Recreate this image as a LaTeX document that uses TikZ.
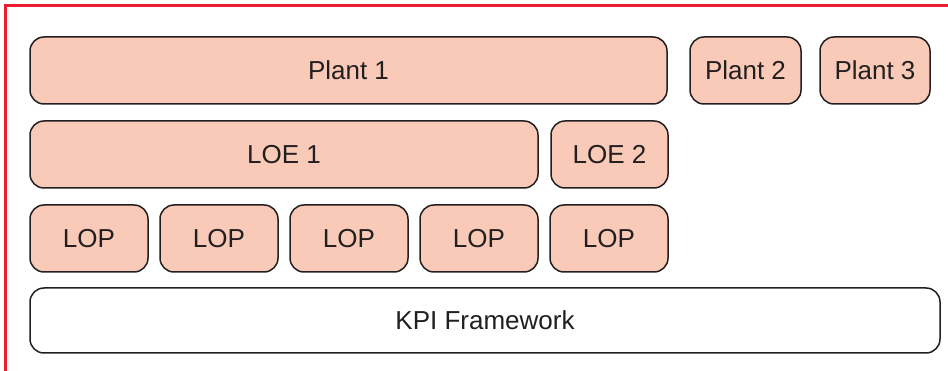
\documentclass[tikz,border=0pt]{standalone}
\usepackage{fontspec}
\setmainfont{Liberation Sans}
\usepackage{tikz}
\usetikzlibrary{positioning}
\definecolor{boxpeach}{RGB}{249, 202, 184}
\definecolor{boxline}{RGB}{35, 31, 32}
\definecolor{frame red}{RGB}{237, 28, 48}
\tikzset{
  layer/.style={rectangle, rounded corners=14pt, draw=boxline, line width=1.5pt, fill=boxpeach, minimum height=67pt, text=boxline, font=\fontsize{26}{30}\selectfont, inner sep=0pt},
  basebox/.style={layer, fill=white, minimum height=65pt}
}
\begin{document}
\begin{tikzpicture}[x=1pt, y=-1pt]
    \useasboundingbox (0,0) rectangle (948,371);
    % red frame (only top and left edges visible)
    \draw[frame red, line width=3pt] (5,371) -- (5,6) -- (948,6);

    % Plants
    \node[layer, minimum width=637pt] (plant1) at (348.5,70.5) {Plant 1};
    \node[layer, minimum width=111pt] (plant2) at (745.5,70.5) {Plant 2};
    \node[layer, minimum width=110pt] (plant3) at (875,70.5) {Plant 3};

    % LOEs
    \node[layer, minimum width=508pt] (loe1) at (284,154.5) {LOE 1};
    \node[layer, minimum width=117pt] (loe2) at (609.5,154.5) {LOE 2};

    % LOPs
    \foreach \i/\x in {1/89, 2/219, 3/349, 4/479, 5/609} {
        \node[layer, minimum width=118pt] (lop\i) at (\x,238.5) {LOP};
    }

    % Framework
    \node[basebox, minimum width=910pt] (kpi) at (485,320.5) {KPI Framework};
\end{tikzpicture}
\end{document}
